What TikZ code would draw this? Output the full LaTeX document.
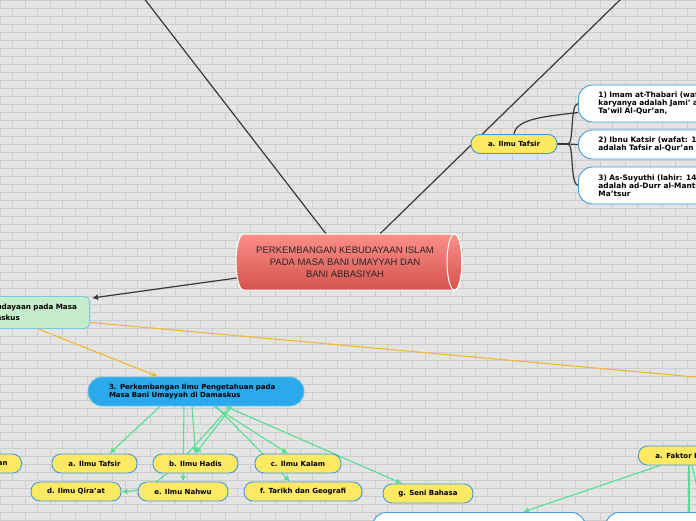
\documentclass[tikz,border=0pt]{standalone}
\usepackage{fontspec}
\setsansfont{DejaVu Sans}
\newfontfamily\titlefont{Liberation Sans}
\usetikzlibrary{arrows.meta,calc,positioning,backgrounds}
\definecolor{brickbase}{HTML}{E4E4E4}
\definecolor{brickline}{HTML}{CDCDCD}
\definecolor{mapyellow}{HTML}{FFE862}
\definecolor{mapblue}{HTML}{2AA9EC}
\definecolor{mapborder}{HTML}{3D9BDC}
\definecolor{lightborder}{HTML}{7CC6DE}
\definecolor{mapgreen}{HTML}{C5ECCB}
\definecolor{mapmint}{HTML}{55DF92}
\definecolor{mapgold}{HTML}{F1B732}
\definecolor{mapdark}{HTML}{383838}
\definecolor{maintop}{HTML}{FC8F89}
\definecolor{mainbottom}{HTML}{D4534E}
\tikzset{
  mortar/.style={brickline, line width=0.8pt},
  darkline/.style={mapdark, line width=1.2pt},
  darkarrow/.style={darkline, -{Latex[length=6pt,width=6pt]}},
  goldline/.style={mapgold, line width=1.1pt},
  goldarrow/.style={goldline, -{Latex[length=6pt,width=6pt]}},
  mintline/.style={mapmint, line width=1.1pt},
  mintarrow/.style={mintline, -{Latex[length=6pt,width=6pt]}},
  mapfont/.style={font=\sffamily\bfseries\fontsize{7}{8}\selectfont},
  topicnode/.style={mapfont, draw=mapborder, line width=0.9pt, fill=mapyellow, rounded corners=9pt, minimum height=19pt, inner sep=0pt, text=black},
  notenode/.style={font=\sffamily\bfseries\fontsize{7.4}{8}\selectfont, draw=mapborder, line width=0.9pt, fill=white, rounded corners=14pt, align=left, anchor=west, text width=150pt, inner xsep=20pt, inner ysep=0pt},
  branchnode/.style={mapfont, draw=lightborder, line width=0.9pt, fill=mapblue, rounded corners=14pt, align=left, text width=174pt, inner xsep=21pt, minimum height=29pt},
  greenbox/.style={font=\sffamily\bfseries\fontsize{7.2}{10.5}\selectfont, draw=lightborder, line width=0.9pt, fill=mapgreen, rounded corners=5pt, align=left, text width=83pt, inner xsep=10pt, minimum height=32pt},
  maintext/.style={minimum width=218pt, minimum height=56pt, inner sep=0pt, align=center, font=\titlefont\fontsize{9.5}{12}\selectfont, text=black!85},
  cylbody/.style={draw=white, line width=1pt, top color=maintop, bottom color=mainbottom}
}
\begin{document}
\begin{tikzpicture}[x=1pt, y=-1pt]
  \useasboundingbox (0,0) rectangle (696,520);
  \begin{pgfonlayer}{background}
    \fill[brickbase] (0,0) rectangle (696,520);
    \foreach \r in {0,...,65}{
      \draw[mortar] (0,\r*8) -- (696,\r*8);
      \pgfmathsetmacro{\brickoff}{mod(\r,2)*12.5}
      \foreach \k in {0,...,28}{\draw[mortar] (\brickoff+\k*25,\r*8) -- ++(0,8);}
    }
  \end{pgfonlayer}
  % central topic drawn as a lying cylinder
  \shade[cylbody] (243.5,234) -- (454.5,234) arc[start angle=-90, end angle=90, x radius=7.5, y radius=28]
    -- (243.5,290) arc[start angle=90, end angle=270, x radius=7.5, y radius=28] -- cycle;
  \draw[white, line width=1pt] (454.5,262) ellipse [x radius=7.5, y radius=28];
  \node[maintext] (main) at (345,262) {PERKEMBANGAN KEBUDAYAAN ISLAM\\PADA MASA BANI UMAYYAH DAN\\BANI ABBASIYAH};
  \node[greenbox, anchor=north east] (kebud) at (90,296) {udayaan pada Masa\\askus};
  \node[branchnode] (ilmu) at (196,391.5) {3. Perkembangan Ilmu Pengetahuan pada\\Masa Bani Umayyah di Damaskus};
  % tafsir notes, upper right
  \node[topicnode, minimum width=86pt] (tafsirA) at (514,144) {a. Ilmu Tafsir};
  \node[notenode, minimum height=37pt] (noteA) at (578,103.5) {1) Imam at-Thabari (waf\\karyanya adalah Jami' al\\Ta'wil Al-Qur'an,};
  \node[notenode, minimum height=29pt] (noteB) at (578,144.5) {2) Ibnu Katsir (wafat: 13\\adalah Tafsir al-Qur'an a};
  \node[notenode, minimum height=37pt] (noteC) at (578,185.5) {3) As-Suyuthi (lahir: 144\\adalah ad-Durr al-Mantsu\\Ma'tsur};
  % sciences under branch 3
  \node[topicnode, anchor=east, text width=40pt, align=right, inner xsep=14pt] (yCut) at (22,463.5) {an};
  \node[topicnode, minimum width=85pt] (yTafsir) at (94.5,463.5) {a. Ilmu Tafsir};
  \node[topicnode, minimum width=85pt] (yHadis) at (195.5,463.5) {b. Ilmu Hadis};
  \node[topicnode, minimum width=86pt] (yKalam) at (298,463.5) {c. Ilmu Kalam};
  \node[topicnode, minimum width=90pt] (yQiraat) at (76,491.5) {d. Ilmu Qira'at};
  \node[topicnode, minimum width=90pt] (yNahwu) at (183,491.5) {e. Ilmu Nahwu};
  \node[topicnode, minimum width=118pt] (yTarikh) at (303,491.5) {f. Tarikh dan Geografi};
  \node[topicnode, minimum width=90pt] (ySeni) at (428,493.5) {g. Seni Bahasa};
  % lower right
  \node[topicnode, anchor=west, text width=60pt, align=left, inner xsep=17pt] (faktor) at (638,455.5) {a. Faktor I};
  \node[notenode, anchor=north west, text width=173pt, minimum height=40pt] (bottomA) at (372,512) {};
  \node[notenode, anchor=north west, text width=100pt, minimum height=40pt] (bottomB) at (605,512) {};
  \coordinate (upL) at (143,-3);
  \coordinate (upR) at (623,-3);
  \coordinate (offR) at (700,377.4);
  \coordinate (downF) at (689,525);
  \coordinate (downG) at (700,500);
  \coordinate (fork) at (568,144);
  \begin{pgfonlayer}{background}
    \draw[darkline] (upL) -- ($(main.north)+(-19,0)$);
    \draw[darkline] (upR) -- ($(main.north)+(35,0)$);
    \draw[darkarrow] ($(main.west)+(1,16)$) -- ($(kebud.north east)+(2,2)$);
    \draw[goldarrow] (kebud.south) -- ($(ilmu.north)+(-38,0)$);
    \draw[goldline] ($(kebud.east)+(0,10)$) -- (offR);
    \draw[mapdark, line width=2pt] (tafsirA.east) -- (fork);
    \draw[darkline] (fork) .. controls (574,144) and (570,104) .. (noteA.west);
    \draw[darkline] (fork) -- (noteB.west);
    \draw[darkline] (fork) .. controls (574,144) and (570,185) .. (noteC.west);
    \draw[darkline] (tafsirA.north) .. controls (516,118) and (550,116) .. ($(noteA.west)+(0,9)$);
    \draw[mintarrow] ($(ilmu.south)+(-36,0)$) -- ($(yTafsir.north)+(15,0)$);
    \draw[mintarrow] ($(ilmu.south)+(-4,0)$) -- (yHadis.north);
    \draw[mintarrow] ($(ilmu.south)+(36,0)$) -- (yHadis.north);
    \draw[mintarrow] ($(ilmu.south)+(-12,0)$) -- (yNahwu.north);
    \draw[mintarrow] ($(ilmu.south)+(34,0)$) .. controls (180,462) and (158,491) .. (yQiraat.east);
    \draw[mintarrow] ($(ilmu.south)+(18,0)$) -- ($(yKalam.north)+(-10,0)$);
    \draw[mintarrow] ($(ilmu.south)+(20,0)$) -- ($(yTarikh.north)+(-13,0)$);
    \draw[mintarrow] ($(ilmu.south)+(30,0)$) -- ($(ySeni.north)+(-26,0)$);
    \draw[mintarrow] ($(faktor.south west)+(22,0)$) -- ($(bottomA.north)+(44,0)$);
    \draw[mintline] ($(faktor.south west)+(51,0)$) -- (downF);
    \draw[mintline] ($(faktor.south west)+(54,0)$) -- (downG);
  \end{pgfonlayer}
\end{tikzpicture}
\end{document}
